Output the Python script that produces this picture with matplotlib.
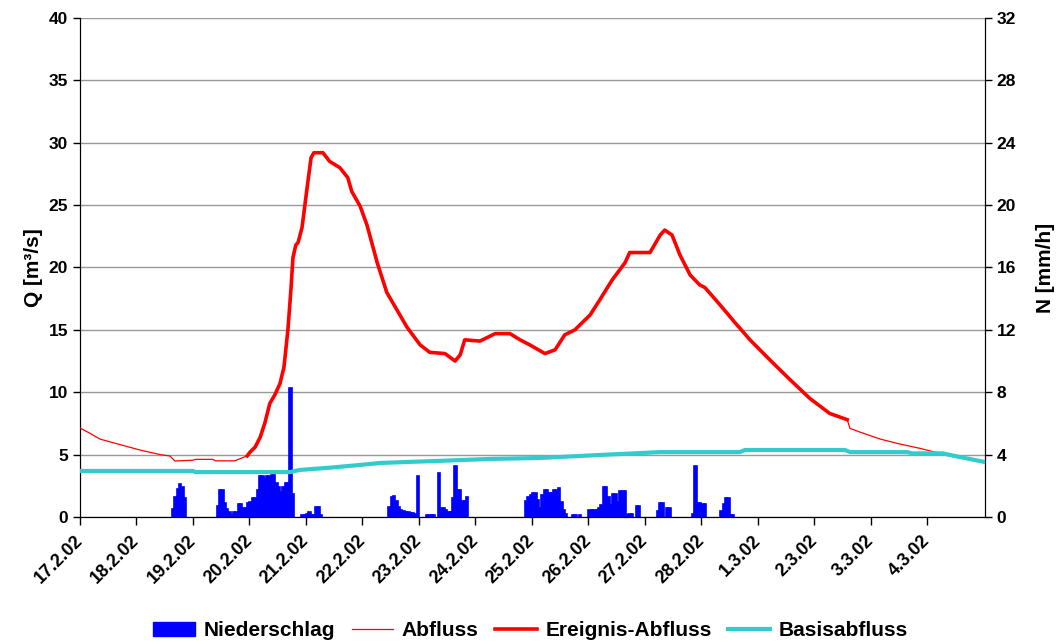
import numpy as np
import matplotlib
matplotlib.use("Agg")
import matplotlib.pyplot as plt
from matplotlib.patches import Patch
from matplotlib.lines import Line2D

plt.rcParams["font.family"] = ["Liberation Sans", "DejaVu Sans"]
plt.rcParams["font.weight"] = "bold"

# --- data (time in days after 17.2.02 00:00) ---
date_labels = ["17.2.02", "18.2.02", "19.2.02", "20.2.02", "21.2.02", "22.2.02",
               "23.2.02", "24.2.02", "25.2.02", "26.2.02", "27.2.02", "28.2.02",
               "1.3.02", "2.3.02", "3.3.02", "4.3.02"]

# total discharge (Abfluss), m3/s
q_days = [0.00, 0.18, 0.35, 0.71, 1.06, 1.42, 1.59, 1.68, 2.00, 2.05, 2.35, 2.40,
          2.74, 2.96, 3.01, 3.10, 3.19, 3.27, 3.36, 3.45, 3.54, 3.61, 3.68, 3.73,
          3.77, 3.82, 3.86, 3.93, 4.02, 4.09, 4.14, 4.30, 4.42, 4.60, 4.74, 4.81,
          4.96, 5.08, 5.26, 5.43, 5.61, 5.79, 6.02, 6.19, 6.46, 6.64, 6.73, 6.81,
          7.08, 7.35, 7.61, 7.79, 7.96, 8.23, 8.41, 8.58, 8.76, 9.03, 9.20, 9.42,
          9.65, 9.73, 10.09, 10.27, 10.35, 10.48, 10.62, 10.80, 10.97, 11.06, 11.33, 11.59,
          11.86, 12.21, 12.57, 12.92, 13.27, 13.58, 13.63, 13.81, 14.16, 14.51, 14.87, 15.22,
          15.49, 15.75, 16.02]
q_total = [7.13, 6.70, 6.25, 5.80, 5.37, 5.00, 4.89, 4.49, 4.55, 4.62, 4.62, 4.50,
           4.50, 4.90, 5.20, 5.60, 6.40, 7.50, 9.10, 9.80, 10.7, 12.0, 15.0, 18.0,
           20.8, 21.8, 22.0, 23.2, 26.4, 28.8, 29.2, 29.2, 28.5, 28.0, 27.2, 26.1,
           24.9, 23.4, 20.4, 18.0, 16.6, 15.2, 13.8, 13.2, 13.1, 12.5, 13.0, 14.2,
           14.1, 14.7, 14.7, 14.2, 13.8, 13.1, 13.4, 14.6, 15.0, 16.2, 17.4, 19.0,
           20.4, 21.2, 21.2, 22.6, 23.0, 22.6, 21.0, 19.4, 18.6, 18.4, 17.0, 15.6,
           14.2, 12.6, 11.0, 9.5, 8.3, 7.8, 7.1, 6.8, 6.25, 5.85, 5.5, 5.1,
           4.8, 4.6, 4.4]
event_start, event_end = 2.96, 13.58

# base flow (Basisabfluss), m3/s
base_days = [0.00, 2.00, 2.04, 3.72, 3.89, 4.42, 4.96, 5.31, 6.37, 7.26, 8.14,
             9.20, 10.27, 11.68, 11.77, 13.54, 13.63, 14.64, 14.73, 15.27, 15.58, 16.02]
base_q = [3.69, 3.69, 3.60, 3.60, 3.77, 3.95, 4.17, 4.33, 4.50, 4.65, 4.73,
          4.97, 5.20, 5.20, 5.37, 5.37, 5.20, 5.20, 5.10, 5.10, 4.80, 4.40]

# precipitation (Niederschlag), hour after start -> mm/h
rain_hour = [39, 40, 41, 42, 43, 44,
             58, 59, 60, 61, 62, 63, 64, 65, 66, 67, 68, 69, 70, 71, 72, 73, 74,
             75, 76, 77, 78, 79, 80, 81, 82, 83, 84, 85, 86, 87, 88, 89, 90,
             94, 95, 96, 97, 98, 99, 100, 101, 102,
             131, 132, 133, 134, 135, 136, 137, 138, 139, 140, 141, 142, 143,
             147, 148, 149, 150, 152, 153, 154, 155, 156, 157, 158, 159, 160,
             161, 162, 163, 164,
             189, 190, 191, 192, 193, 194, 195, 196, 197, 198, 199, 200, 201,
             202, 203, 204, 205, 206, 209, 210, 212, 216, 217, 218, 219, 220,
             221, 222, 223, 224, 225, 226, 227, 228, 229, 230, 231, 232, 233,
             234, 236, 237,
             245, 246, 247, 249, 250, 260, 261, 262, 263, 264, 265, 272, 273,
             274, 275, 276, 277]
rain_mm = [0.5, 1.3, 1.8, 2.1, 1.9, 1.2,
           0.7, 1.7, 1.7, 0.9, 0.5, 0.35, 0.15, 0.3, 0.3, 0.8, 0.8, 0.57, 0.57, 0.9, 0.95, 1.2, 1.2,
           1.7, 2.6, 2.6, 2.5, 2.6, 2.6, 2.7, 2.7, 2.2, 1.9, 1.6, 1.9, 2.2, 2.2, 8.3, 1.5,
           0.15, 0.15, 0.2, 0.35, 0.15, 0.15, 0.65, 0.65, 0.15,
           0.66, 1.3, 1.35, 1.0, 0.66, 0.45, 0.4, 0.3, 0.3, 0.25, 0.25, 0.2, 2.6,
           0.15, 0.15, 0.15, 0.15, 2.8, 0.6, 0.6, 0.45, 0.35, 0.35, 1.2, 3.3, 1.7,
           1.7, 1.05, 1.05, 1.26,
           1.0, 1.26, 1.41, 1.52, 1.52, 1.1, 0.55, 1.41, 1.73, 1.73, 1.56, 1.52, 1.73,
           1.73, 1.84, 0.98, 0.45, 0.2, 0.1, 0.1, 0.1, 0.45, 0.45, 0.45, 0.45, 0.55,
           0.77, 1.94, 1.94, 1.3, 0.77, 1.47, 1.47, 0.98, 1.69, 1.69, 1.69, 0.1, 0.2,
           0.2, 0.7, 0.7,
           0.4, 0.88, 0.9, 0.55, 0.55, 0.2, 3.3, 0.88, 0.88, 0.85, 0.85, 0.4, 0.85,
           1.2, 1.2, 0.1, 0.1]

q_days = np.array(q_days)
q_total = np.array(q_total)
in_event = (q_days >= event_start) & (q_days <= event_end)

fig = plt.figure(figsize=(10.61, 6.43), dpi=100)
ax = fig.add_axes([0.0754, 0.196, 0.853, 0.776])
ax2 = ax.twinx()

# rain bars on the right axis, lines drawn above
ax2.bar(np.array(rain_hour) / 24.0, rain_mm, width=1 / 24.0, align="edge",
        color="#0000FF", edgecolor="#0000FF", linewidth=1.2, zorder=2)
ax2.set_ylim(0, 32)
ax2.set_yticks(range(0, 33, 4))
ax2.yaxis.grid(True, color="#999999", lw=1.0, zorder=0)
ax2.set_axisbelow(True)

ax.set_zorder(ax2.get_zorder() + 1)
ax.patch.set_visible(False)

ax.plot(q_days, q_total, color="#FF0000", lw=0.9, zorder=3)
ax.plot(q_days[in_event], q_total[in_event], color="#FF0000", lw=2.6, zorder=4)
ax.plot(base_days, base_q, color="#33CCCC", lw=3.0, zorder=5)

ax.set_xlim(0, 16.02)
ax.set_ylim(0, 40)
ax.set_yticks(range(0, 41, 5))
ax.set_xticks(range(len(date_labels)))
ax.set_xticklabels(date_labels, rotation=45, ha="right", va="center",
                   rotation_mode="anchor")

for a in (ax, ax2):
    a.spines["top"].set_visible(False)
    a.tick_params(labelsize=12.5, width=1, length=5)
ax.tick_params(axis="x", direction="out", length=6, pad=9, labelsize=13)

ax.set_ylabel("Q [m³/s]", fontsize=15, fontweight="bold", labelpad=4)
ax2.set_ylabel("N [mm/h]", fontsize=15, fontweight="bold", labelpad=14)

handles = [Patch(facecolor="#0000FF", edgecolor="#0000FF"),
           Line2D([], [], color="#FF0000", lw=0.9),
           Line2D([], [], color="#FF0000", lw=2.6),
           Line2D([], [], color="#33CCCC", lw=3.0)]
labels = ["Niederschlag", "Abfluss", "Ereignis-Abfluss", "Basisabfluss"]
fig.legend(handles, labels, loc="lower center", bbox_to_anchor=(0.5, -0.025),
           ncol=4, frameon=False, prop={"size": 15, "weight": "bold"},
           handlelength=2.0, columnspacing=0.8, handletextpad=0.4)

fig.savefig("out.png", dpi=100)
